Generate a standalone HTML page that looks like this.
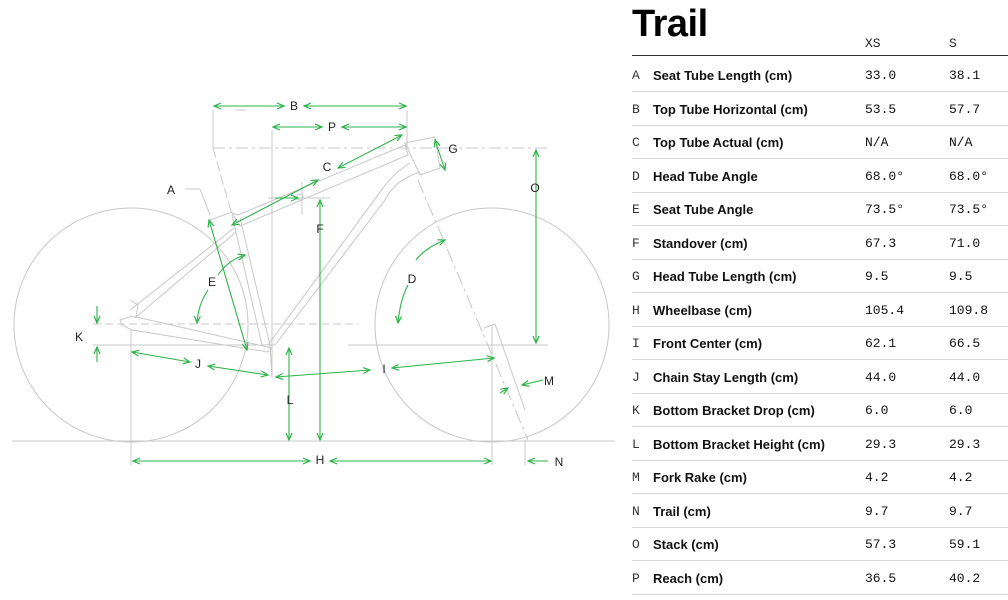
<!DOCTYPE html>
<html><head><meta charset="utf-8"><style>
body{margin:0;width:1008px;height:600px;background:#fff;position:relative;overflow:hidden;font-family:"Liberation Sans",sans-serif;}
.t{position:absolute;left:632px;top:3px;font-size:38px;font-weight:bold;color:#000;letter-spacing:-0.5px}
.h{position:absolute;top:36px;font-family:"Liberation Mono",monospace;font-size:13px;color:#222}
.hl{position:absolute;left:632px;top:55px;width:376px;height:1px;background:#333}
.r{position:absolute;left:632px;width:376px;height:33px;border-bottom:1px solid #d8d8d8}
.r span{position:absolute;top:10px;font-size:13px;color:#111}
.l{left:0;font-family:"Liberation Mono",monospace;color:#333!important}
.n{left:21px;font-weight:bold}
.a{left:233px;font-family:"Liberation Mono",monospace}
.b{left:317px;font-family:"Liberation Mono",monospace}
</style></head><body>
<svg width="620" height="600" style="position:absolute;left:0;top:0" font-family="Liberation Sans, sans-serif" font-size="12">
<g fill="none" stroke="#c8c8c8" stroke-width="1">
<circle cx="131" cy="325" r="117"/>
<circle cx="492" cy="325" r="117"/>
<line x1="12" y1="441" x2="615" y2="441"/>
<line x1="93" y1="345" x2="258" y2="345"/>
<line x1="348" y1="345" x2="548" y2="345"/>
<line x1="213" y1="148" x2="548" y2="148" stroke-dasharray="12 4 3 4"/>
<line x1="93" y1="324" x2="358" y2="324" stroke-dasharray="8 4"/>
<line x1="213" y1="110" x2="213" y2="148"/>
<line x1="407" y1="110" x2="407" y2="148"/>
<line x1="272" y1="130" x2="272" y2="375"/>
<line x1="131" y1="330" x2="131" y2="465"/>
<line x1="492" y1="325" x2="492" y2="465"/>
<line x1="213" y1="148" x2="232" y2="215" stroke-dasharray="10 4"/>
<line x1="418" y1="180" x2="528" y2="440" stroke-dasharray="14 4 3 4"/>
<line x1="484" y1="328" x2="495" y2="324"/>
<line x1="495" y1="324" x2="525" y2="410"/>
<line x1="525" y1="440" x2="525" y2="465"/>
<path d="M232 213 L238 215 L405 145 L408 155 L240 226 Z"/>
<path d="M405 143 L435 137 L440 168 L420 175 Z"/>
<path d="M420 172 Q395 180 385 200 L275 345 L268 345 L383 188 Q395 172 410 163"/>
<path d="M232 215 L262 345 L270 345 L240 218"/>
<path d="M130 310 L234 228 M135 318 L236 232"/>
<path d="M120 320 L132 316 L272 348 L268 352 L132 330 L122 325 Z"/>
<path d="M130 300 L138 305 L136 318"/>
<line x1="235" y1="110" x2="246" y2="110"/>
<line x1="185" y1="189" x2="200" y2="189"/>
<line x1="200" y1="189" x2="210" y2="215"/>
<line x1="210" y1="220" x2="232" y2="212"/>
<line x1="268" y1="198" x2="330" y2="198"/>
<line x1="302" y1="182" x2="302" y2="215"/>
<circle cx="300" cy="197" r="3"/>
<line x1="440" y1="148" x2="450" y2="148"/>
<line x1="270" y1="345" x2="272" y2="378"/>
</g>
<defs><marker id="m" markerWidth="8" markerHeight="8" refX="7" refY="4" orient="auto-start-reverse" markerUnits="userSpaceOnUse"><path d="M0 1 L7 4 L0 7" fill="none" stroke="#2db34a" stroke-width="1.2"/></marker></defs>
<g fill="none" stroke="#2db34a" stroke-width="1.1" marker-start="url(#m)" marker-end="url(#m)">
<line x1="214" y1="106" x2="284" y2="106"/><line x1="304" y1="106" x2="406" y2="106"/>
<line x1="273" y1="127" x2="322" y2="127"/><line x1="342" y1="127" x2="406" y2="127"/>
<line x1="232" y1="225" x2="318" y2="180"/><line x1="338" y1="168" x2="402" y2="135"/>
<line x1="209" y1="220" x2="247" y2="350"/>
<line x1="435" y1="140" x2="445" y2="170"/>
<line x1="320" y1="200" x2="320" y2="440"/>
<line x1="536" y1="150" x2="536" y2="343"/>
<line x1="132" y1="352" x2="190" y2="362"/><line x1="208" y1="366" x2="268" y2="375"/>
<line x1="276" y1="377" x2="370" y2="370"/><line x1="392" y1="368" x2="494" y2="358"/>
<line x1="289" y1="348" x2="289" y2="440"/>
<line x1="133" y1="461" x2="310" y2="461"/><line x1="330" y1="461" x2="491" y2="461"/>
</g>
<g fill="none" stroke="#2db34a" stroke-width="1.1" marker-end="url(#m)">
<path d="M275 198 L298 198"/>
<line x1="97" y1="306" x2="97" y2="323"/><line x1="97" y1="362" x2="97" y2="347"/>
<path d="M218 275 Q228 260 245 255"/><path d="M208 290 Q198 305 197 323"/>
<path d="M416 260 Q425 248 445 240"/><path d="M408 285 Q400 300 398 323"/>
<path d="M543 380 L522 385"/>
<path d="M500 393 L508 388"/>
<path d="M548 461 L528 461"/>
</g>
<g fill="#222" text-anchor="middle">
<text x="294" y="110">B</text><text x="332" y="131">P</text><text x="327" y="171">C</text>
<text x="171" y="194">A</text><text x="453" y="153">G</text><text x="535" y="192">O</text>
<text x="320" y="233">F</text><text x="212" y="286">E</text><text x="412" y="283">D</text>
<text x="79" y="341">K</text><text x="198" y="368">J</text><text x="384" y="373">I</text>
<text x="549" y="385">M</text><text x="290" y="404">L</text><text x="320" y="464">H</text>
<text x="559" y="466">N</text>
</g>
</svg>
<div class="t">Trail</div>
<div class="h" style="left:865px">XS</div>
<div class="h" style="left:949px">S</div>
<div class="hl"></div>
<div class="r" style="top:58px"><span class="l">A</span><span class="n">Seat Tube Length (cm)</span><span class="a">33.0</span><span class="b">38.1</span></div>
<div class="r" style="top:92px"><span class="l">B</span><span class="n">Top Tube Horizontal (cm)</span><span class="a">53.5</span><span class="b">57.7</span></div>
<div class="r" style="top:125px"><span class="l">C</span><span class="n">Top Tube Actual (cm)</span><span class="a">N/A</span><span class="b">N/A</span></div>
<div class="r" style="top:159px"><span class="l">D</span><span class="n">Head Tube Angle</span><span class="a">68.0°</span><span class="b">68.0°</span></div>
<div class="r" style="top:192px"><span class="l">E</span><span class="n">Seat Tube Angle</span><span class="a">73.5°</span><span class="b">73.5°</span></div>
<div class="r" style="top:226px"><span class="l">F</span><span class="n">Standover (cm)</span><span class="a">67.3</span><span class="b">71.0</span></div>
<div class="r" style="top:259px"><span class="l">G</span><span class="n">Head Tube Length (cm)</span><span class="a">9.5</span><span class="b">9.5</span></div>
<div class="r" style="top:293px"><span class="l">H</span><span class="n">Wheelbase (cm)</span><span class="a">105.4</span><span class="b">109.8</span></div>
<div class="r" style="top:326px"><span class="l">I</span><span class="n">Front Center (cm)</span><span class="a">62.1</span><span class="b">66.5</span></div>
<div class="r" style="top:360px"><span class="l">J</span><span class="n">Chain Stay Length (cm)</span><span class="a">44.0</span><span class="b">44.0</span></div>
<div class="r" style="top:393px"><span class="l">K</span><span class="n">Bottom Bracket Drop (cm)</span><span class="a">6.0</span><span class="b">6.0</span></div>
<div class="r" style="top:427px"><span class="l">L</span><span class="n">Bottom Bracket Height (cm)</span><span class="a">29.3</span><span class="b">29.3</span></div>
<div class="r" style="top:460px"><span class="l">M</span><span class="n">Fork Rake (cm)</span><span class="a">4.2</span><span class="b">4.2</span></div>
<div class="r" style="top:494px"><span class="l">N</span><span class="n">Trail (cm)</span><span class="a">9.7</span><span class="b">9.7</span></div>
<div class="r" style="top:527px"><span class="l">O</span><span class="n">Stack (cm)</span><span class="a">57.3</span><span class="b">59.1</span></div>
<div class="r" style="top:561px"><span class="l">P</span><span class="n">Reach (cm)</span><span class="a">36.5</span><span class="b">40.2</span></div>
</body></html>
